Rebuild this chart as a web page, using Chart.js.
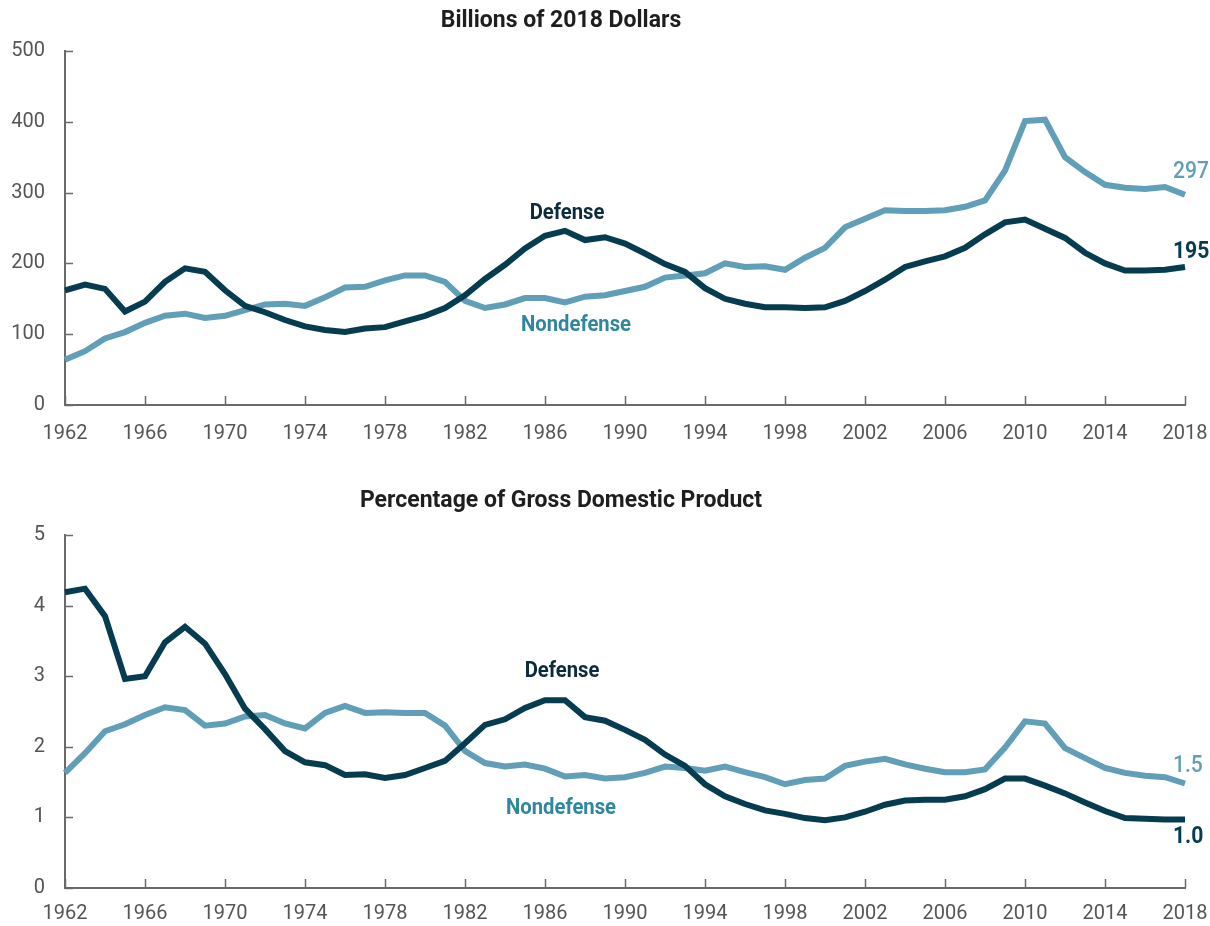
<!DOCTYPE html>
<html>
<head>
<meta charset="utf-8">
<script src="https://cdn.jsdelivr.net/npm/chart.js@4.4.1/dist/chart.umd.min.js"></script>
<style>
  html, body { margin: 0; padding: 0; background: #ffffff; }
  #wrap { position: relative; width: 1210px; height: 926px; }
  canvas { position: absolute; left: 0; }
</style>
</head>
<body>
<div id="wrap">
  <canvas id="top" width="1210" height="460" style="top:0px"></canvas>
  <canvas id="bottom" width="1210" height="466" style="top:460px"></canvas>
</div>
<script>
// ---------- DATA ----------
const years = [1962,1963,1964,1965,1966,1967,1968,1969,1970,1971,1972,1973,1974,1975,1976,1977,1978,1979,1980,
  1981,1982,1983,1984,1985,1986,1987,1988,1989,1990,1991,1992,1993,1994,1995,1996,1997,1998,1999,2000,
  2001,2002,2003,2004,2005,2006,2007,2008,2009,2010,2011,2012,2013,2014,2015,2016,2017,2018];

// Billions of 2018 dollars
const defenseDollars = [162,170,164,132,146,174,193,188,162,140,131,120,111,106,103,108,110,118,126,
  137,155,178,198,221,239,246,233,237,228,214,199,188,165,150,143,138,138,137,138,
  147,161,177,195,203,210,222,241,258,262,249,236,215,200,190,190,191,195];
const nondefenseDollars = [64,76,94,103,116,126,129,123,126,134,142,143,140,152,166,167,176,183,183,
  174,147,137,142,151,151,145,153,155,161,167,180,183,186,200,195,196,191,208,222,
  251,263,275,274,274,275,280,289,331,401,403,350,329,311,307,305,308,297];

// Percentage of GDP
const defenseGDP = [4.19,4.24,3.85,2.96,3.00,3.48,3.70,3.46,3.03,2.54,2.25,1.94,1.78,1.74,1.60,1.61,1.56,1.60,1.70,
  1.80,2.05,2.31,2.39,2.55,2.66,2.66,2.42,2.37,2.24,2.10,1.89,1.73,1.47,1.30,1.19,1.10,1.05,0.99,0.96,
  1.00,1.08,1.18,1.24,1.25,1.25,1.30,1.40,1.55,1.55,1.45,1.34,1.21,1.09,0.99,0.98,0.97,0.97];
const nondefenseGDP = [1.63,1.91,2.22,2.32,2.45,2.56,2.52,2.30,2.33,2.43,2.45,2.33,2.26,2.48,2.58,2.48,2.49,2.48,2.48,
  2.30,1.94,1.77,1.72,1.75,1.69,1.58,1.60,1.55,1.57,1.63,1.72,1.70,1.66,1.72,1.64,1.57,1.47,1.53,1.55,
  1.73,1.79,1.83,1.75,1.69,1.64,1.64,1.68,1.99,2.36,2.33,1.98,1.84,1.70,1.63,1.59,1.57,1.48];

const yTicksDollars = [0,100,200,300,400,500];
const yTicksGDP = [0,1,2,3,4,5];
const seriesNames = ['Defense','Nondefense'];

// ---------- STYLE ----------
const DEF_COLOR = '#063c4f';
const NON_COLOR = '#609fb7';
const DEF_TEXT = '#0c2b3b';
const NON_TEXT = '#2e869f';
const AXIS_COLOR = '#6a6a6a';
const TICK_COLOR = '#555555';
const FAMILY = 'Roboto, sans-serif';
const TITLE_FONT = 'bold 23px ' + FAMILY;
const LABEL_FONT = 'bold 22px ' + FAMILY;
const END_FONT = '500 24px ' + FAMILY;
const END_FONT_BOLD = 'bold 24px ' + FAMILY;

Chart.defaults.font.family = FAMILY;

function condensedText(ctx, text, px, py, align, k) {
  ctx.save();
  ctx.translate(px, py);
  ctx.scale(k, 1);
  ctx.textAlign = align;
  ctx.fillText(text, 0, 0);
  ctx.restore();
}

const panelPlugin = {
  id: 'panel',
  beforeDatasetsDraw(chart) {
    const { ctx, chartArea, scales: { x, y } } = chart;
    ctx.save();
    ctx.strokeStyle = AXIS_COLOR;
    ctx.lineWidth = 1.5;
    x.ticks.forEach((t, i) => {
      if (!t.label) return;
      const px = Math.round(x.getPixelForTick(i)) + 0.5;
      ctx.beginPath();
      ctx.moveTo(px, chartArea.bottom);
      ctx.lineTo(px, chartArea.bottom - 9);
      ctx.stroke();
    });
    y.ticks.forEach((t) => {
      const py = Math.round(y.getPixelForValue(t.value)) + 0.5;
      ctx.beginPath();
      ctx.moveTo(chartArea.left, py);
      ctx.lineTo(chartArea.left + 8, py);
      ctx.stroke();
    });
    ctx.restore();
  },
  afterDraw(chart, args, opts) {
    const { ctx, scales: { x, y } } = chart;
    ctx.save();
    ctx.textBaseline = 'middle';
    ctx.fillStyle = '#1e1e1e';
    ctx.font = TITLE_FONT;
    condensedText(ctx, opts.title, opts.titleX, opts.titleY, 'center', 1);
    opts.labels.forEach(l => {
      ctx.font = l.font;
      ctx.fillStyle = l.color;
      const px = x.getPixelForValue(l.xi) + (l.dx || 0);
      const py = y.getPixelForValue(l.yv) + (l.dy || 0);
      condensedText(ctx, l.text, px, py, l.align, l.k);
    });
    ctx.restore();
  }
};

function makeChart(id, defVals, nonVals, yTicks, yMax, opts) {
  const last = years.length - 1;
  return new Chart(document.getElementById(id), {
    type: 'line',
    data: {
      labels: years,
      datasets: [
        { label: seriesNames[0], data: defVals, borderColor: DEF_COLOR, borderWidth: 6, pointRadius: 0, tension: 0, order: 1 },
        { label: seriesNames[1], data: nonVals, borderColor: NON_COLOR, borderWidth: 6, pointRadius: 0, tension: 0, order: 2 }
      ]
    },
    options: {
      responsive: false,
      animation: false,
      events: [],
      layout: { padding: { top: opts.padTop, right: 25, left: 0, bottom: 0 } },
      plugins: {
        legend: { display: false },
        tooltip: { enabled: false },
        panel: {
          title: opts.title, titleX: 561, titleY: opts.titleY,
          labels: [
            { text: 'Defense', xi: opts.defLabel[0], yv: opts.defLabel[1], color: DEF_TEXT, font: LABEL_FONT, align: 'center', k: 0.92 },
            { text: 'Nondefense', xi: opts.nonLabel[0], yv: opts.nonLabel[1], color: NON_TEXT, font: LABEL_FONT, align: 'center', k: 0.92 },
            { text: opts.endNon, xi: last, yv: nonVals[last], dx: -12, dy: opts.endNonDy, color: NON_COLOR, font: END_FONT, align: 'left', k: 0.88 },
            { text: opts.endDef, xi: last, yv: defVals[last], dx: -12, dy: opts.endDefDy, color: DEF_COLOR, font: END_FONT_BOLD, align: 'left', k: 0.88 }
          ]
        }
      },
      scales: {
        x: {
          type: 'category',
          offset: false,
          grid: { display: false, drawTicks: false },
          border: { display: true, color: AXIS_COLOR, width: 2 },
          ticks: {
            autoSkip: false, maxRotation: 0, minRotation: 0, padding: opts.xPad,
            color: TICK_COLOR, font: { size: 20 },
            callback: function (v, i) { const yr = years[i]; return (yr - years[0]) % 4 === 0 ? String(yr) : ''; }
          },
          afterFit(scale) { scale.height = opts.xAxisH; scale.paddingRight = 0; scale.paddingLeft = 0; }
        },
        y: {
          min: 0, max: yMax,
          grid: { display: false, drawTicks: false },
          border: { display: true, color: AXIS_COLOR, width: 2 },
          afterBuildTicks(scale) { scale.ticks = yTicks.map(v => ({ value: v })); },
          ticks: { padding: 20, color: TICK_COLOR, font: { size: 20 } },
          afterFit(scale) { scale.width = 65; scale.paddingTop = 0; scale.paddingBottom = 0; }
        }
      }
    },
    plugins: [panelPlugin]
  });
}

makeChart('top', defenseDollars, nondefenseDollars, yTicksDollars, 500, {
  padTop: 51, xAxisH: 55, xPad: 17, title: 'Billions of 2018 Dollars', titleY: 21,
  defLabel: [25.1, 271], nonLabel: [25.55, 112],
  endNon: '297', endNonDy: -23, endDef: '195', endDefDy: -15
});

makeChart('bottom', defenseGDP, nondefenseGDP, yTicksGDP, 5, {
  padTop: 75, xAxisH: 38, xPad: 14, title: 'Percentage of Gross Domestic Product', titleY: 41,
  defLabel: [24.85, 3.06], nonLabel: [24.8, 1.13],
  endNon: '1.5', endNonDy: -18, endDef: '1.0', endDefDy: 17
});
</script>
</body>
</html>
